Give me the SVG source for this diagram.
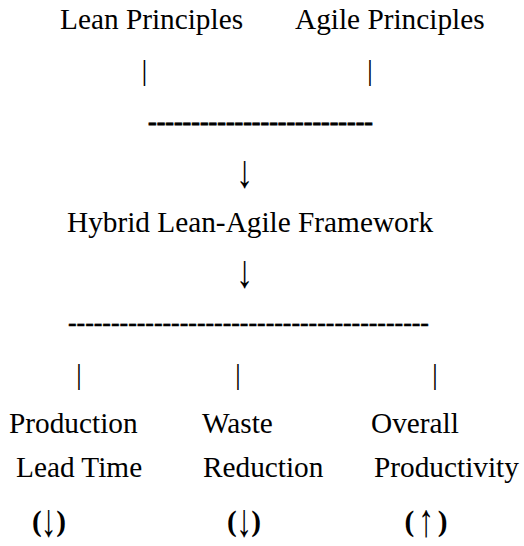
<svg xmlns="http://www.w3.org/2000/svg" width="524" height="546" viewBox="0 0 524 546">
<defs>
<style>
text{font-family:"Liberation Serif","Times New Roman",serif;font-size:29.3px;fill:#000}
.b{font-weight:bold}
.d{font-weight:bold;font-size:26px;stroke:#000}
.m{text-anchor:middle}
.e{text-anchor:end}
.ar{font-size:29px;text-anchor:middle}
</style>
</defs>
<rect width="524" height="546" fill="#fff"/>
<g id="lean"><text x="60" y="29">Lean Principles</text></g>
<g id="agile"><text x="295" y="29">Agile Principles</text></g>
<g id="hybrid"><text x="67" y="232">Hybrid Lean-Agile Framework</text></g>
<g id="leadtime">
<text x="9" y="433">Production</text>
<text x="16" y="477">Lead Time</text>
<text class="b" x="32" y="531">(</text>
<text class="ar" transform="translate(48.5,536) scale(1.1,1.6)">↓</text>
<text class="b e" x="66" y="531">)</text>
</g>
<g id="waste">
<text x="202" y="433">Waste</text>
<text x="203" y="477">Reduction</text>
<text class="b" x="227" y="531">(</text>
<text class="ar" transform="translate(244,536) scale(1.1,1.6)">↓</text>
<text class="b e" x="261" y="531">)</text>
</g>
<g id="productivity">
<text x="371" y="433">Overall</text>
<text x="374" y="477">Productivity</text>
<text class="b" x="404.5" y="531">(</text>
<text class="ar" transform="translate(426,536) scale(1.1,1.6)">↑</text>
<text class="b e" x="447.5" y="531">)</text>
</g>
<g id="connectors">
<text class="m" x="144.5" y="80">|</text>
<text class="m" x="370" y="80">|</text>
<text class="d" x="148" y="130" stroke-width="0.8" textLength="225" lengthAdjust="spacing">--------------------------</text>
<text class="ar" transform="translate(244.5,186.5) scale(1.2,1.6)">↓</text>
<text class="ar" transform="translate(244.5,286.5) scale(1.2,1.6)">↓</text>
<text class="d" x="68" y="331" stroke-width="0.4" textLength="361" lengthAdjust="spacing">------------------------------------------</text>
<text class="m" x="79" y="384">|</text>
<text class="m" x="238" y="384">|</text>
<text class="m" x="435" y="384">|</text>
</g>
</svg>
